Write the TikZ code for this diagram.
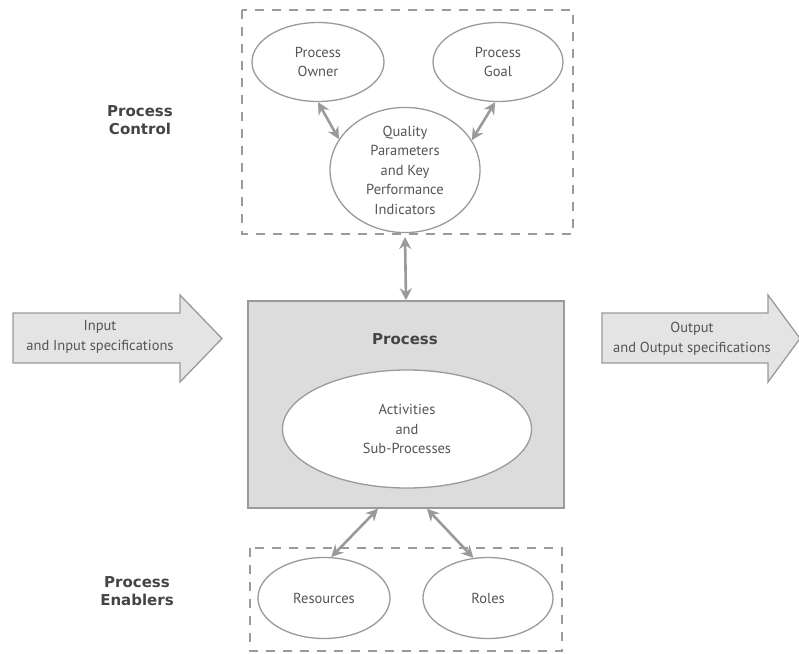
\documentclass[tikz,border=0pt]{standalone}
\usepackage{fontspec}
\setmainfont{PT Sans}
\newfontfamily\labelfont{DejaVu Sans}
\usetikzlibrary{shapes.geometric,arrows.meta}

\definecolor{linegray}{HTML}{9A9A9A}
\definecolor{boxfill}{HTML}{DCDCDC}
\definecolor{arrowfill}{HTML}{E4E4E4}
\definecolor{textgray}{HTML}{555555}
\definecolor{labelgray}{HTML}{444444}

\tikzset{
  oval/.style={ellipse, draw=linegray, line width=1.3pt, fill=white,
    text=textgray, align=center, inner sep=0pt, font=\fontsize{14.5}{19.5}\selectfont},
  groupbox/.style={draw=linegray, line width=2.4pt, dash pattern=on 9pt off 8pt},
  link/.style={linegray, line width=2.6pt, {Stealth[length=12pt,width=12pt]}-{Stealth[length=12pt,width=12pt]}},
  biglabel/.style={text=labelgray, align=center, font=\labelfont\bfseries\fontsize{15}{17.5}\selectfont},
  flowtext/.style={text=textgray, align=center, font=\fontsize{14.5}{20}\selectfont},
  flowarrow/.style={draw=linegray, line width=1.3pt, fill=arrowfill},
}

\begin{document}
\begin{tikzpicture}[x=1pt,y=-1pt]
\useasboundingbox (0,0) rectangle (799,653);
\clip (0,0) rectangle (799,653);

% group frames
\draw[groupbox] (242,10) rectangle (573,234);
\draw[groupbox] (250,548) rectangle (562,651);

% side labels
\node[biglabel] (ctrl) at (140,120) {Process\\Control};
\node[biglabel] (enab) at (137,591) {Process\\Enablers};

% process control ovals
\node[oval, minimum width=132pt, minimum height=79pt] (owner) at (318,62) {Process\\Owner};
\node[oval, minimum width=150pt, minimum height=115pt] (kpi) at (405,170)
  {Quality\\Parameters\\and Key\\Performance\\Indicators};
\node[oval, minimum width=130pt, minimum height=79pt] (goal) at (498,62) {Process\\Goal};

% central process box
\node[draw=linegray, line width=1.5pt, fill=boxfill, minimum width=316pt, minimum height=207pt] (proc) at (406,404.5) {};
\node[biglabel] (proclabel) at (405,339) {Process};
\node[oval, minimum width=249pt, minimum height=118pt] (act) at (407,429) {Activities\\and\\Sub-Processes};

% enabler ovals
\node[oval, minimum width=132pt, minimum height=81pt] (res) at (324,598) {Resources};
\node[oval, minimum width=130pt, minimum height=81pt] (roles) at (488,598) {Roles};

% input / output block arrows
\draw[flowarrow] (13,313) -- (180,313) -- (180,295) -- (222,338.5) -- (180,382) -- (180,363) -- (13,363) -- cycle;
\node[flowtext] (input) at (100,337) {Input\\and Input specifications};
\draw[flowarrow] (602,313) -- (768,313) -- (768,295) -- (800,338.5) -- (768,382) -- (768,363) -- (602,363) -- cycle;
\node[flowtext] (output) at (692,339) {Output\\and Output specifications};

% connectors
\coordinate (ctrlbottom) at (405,237);
\draw[link] (owner.270) -- (kpi.155);
\draw[link] (goal.266) -- (kpi.24);
\draw[link] (ctrlbottom) -- (proc.north);
\draw[link] ([xshift=-28pt]proc.south) -- (res.80);
\draw[link] ([xshift=21pt]proc.south) -- (roles.110);
\end{tikzpicture}
\end{document}
